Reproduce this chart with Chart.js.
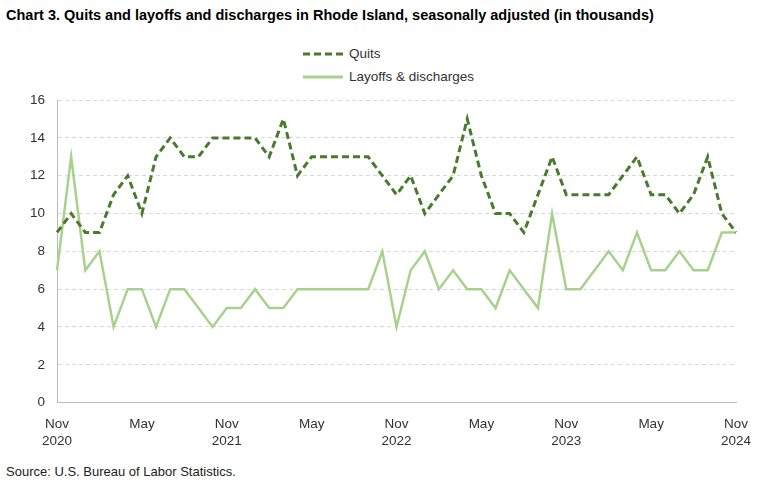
<!DOCTYPE html>
<html><head><meta charset="utf-8">
<script src="https://cdn.jsdelivr.net/npm/chart.js@4"></script>
<style>
body{margin:0;width:780px;height:488px;font-family:"Liberation Sans",Arial,sans-serif;background:#fff;position:relative;overflow:hidden}
#t{position:absolute;left:6px;top:7px;font-size:14.5px;font-weight:bold;color:#000;white-space:nowrap}
#lg{position:absolute;left:303px;top:42px;font-size:13.5px;color:#333;line-height:23px}
#lg div{display:flex;align-items:center}
#lg svg{margin-right:6px}
#s{position:absolute;left:6px;top:464px;font-size:13px;color:#222}
#c{position:absolute;left:0;top:80px}
</style></head><body>
<div id="t">Chart 3. Quits and layoffs and discharges in Rhode Island, seasonally adjusted (in thousands)</div>
<div id="lg">
<div><svg width="40" height="4"><line x1="0" y1="2" x2="40" y2="2" stroke="#4a7a2e" stroke-width="3" stroke-dasharray="7,4"/></svg>Quits</div>
<div><svg width="40" height="4"><line x1="0" y1="2" x2="40" y2="2" stroke="#a9d18e" stroke-width="3"/></svg>Layoffs &amp; discharges</div>
</div>
<div id="c"><canvas id="cv" width="780" height="375"></canvas></div>
<div id="s">Source: U.S. Bureau of Labor Statistics.</div>
<script>
const months=['Jan','Feb','Mar','Apr','May','Jun','Jul','Aug','Sep','Oct','Nov','Dec'];
const categories=[];
for(let y=2020,m=10;;){categories.push(months[m]+' '+y);if(y===2024&&m===10)break;m++;if(m>11){m=0;y++;}}
const quits=[9,10,9,9,11,12,10,13,14,13,13,14,14,14,14,13,15,12,13,13,13,13,13,12,11,12,10,11,12,15,12,10,10,9,11,13,11,11,11,11,12,13,11,11,10,11,13,10,9];
const layoffs=[7,13,7,8,4,6,6,4,6,6,5,4,5,5,6,5,5,6,6,6,6,6,6,8,4,7,8,6,7,6,6,5,7,6,5,10,6,6,7,8,7,9,7,7,8,7,7,9,9];
const yTicks=[0,2,4,6,8,10,12,14,16];
const F={size:13.5,family:'Liberation Sans'};
new Chart(document.getElementById('cv'),{type:'line',
data:{labels:categories,datasets:[
{label:'Quits',data:quits,borderColor:'#4a7a2e',borderWidth:3,borderDash:[7,4],pointRadius:0,tension:0},
{label:'Layoffs & discharges',data:layoffs,borderColor:'#a9d18e',borderWidth:2.5,pointRadius:0,tension:0}]},
options:{responsive:false,animation:false,
layout:{padding:{left:18,right:44,top:6,bottom:0}},
plugins:{legend:{display:false},tooltip:{enabled:false}},
scales:{
x:{grid:{display:false},border:{color:'#bbb'},
 ticks:{autoSkip:false,maxRotation:0,color:'#333',font:F,padding:6,
 callback:(v,i)=>{const p=categories[i].split(' ');if(p[0]==='Nov')return[p[0],p[1]];if(p[0]==='May')return p[0];return '';}}},
y:{min:0,max:16,afterBuildTicks:a=>{a.ticks=yTicks.map(v=>({value:v}));},
 grid:{color:'#d9d9d9',drawTicks:false},border:{display:true,color:'#bbb',dash:[4,3]},
 ticks:{padding:12,color:'#333',font:F}}
}}
});
</script></body></html>
